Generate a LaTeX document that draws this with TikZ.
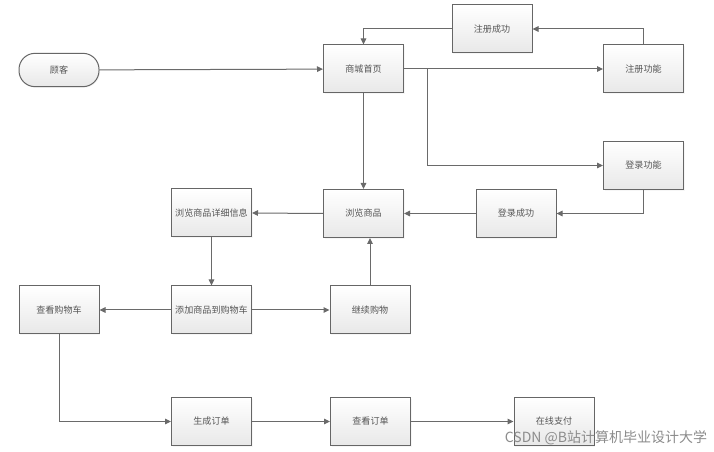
\documentclass[tikz,border=0pt]{standalone}
\usepackage{fontspec}
\setmainfont{Noto Sans CJK SC}
\usetikzlibrary{arrows.meta,shadows,calc}
\definecolor{edgegray}{HTML}{6A6A6A}
\definecolor{boxline}{HTML}{666666}
\definecolor{txtgray}{HTML}{555555}
\tikzset{
  box/.style={draw=boxline, line width=0.75pt, top color=white, bottom color=black!9,
    minimum width=60pt, minimum height=36pt, inner sep=1pt, font=\fontsize{6.8pt}{8pt}\selectfont,
    text=txtgray, drop shadow={opacity=0.07, shadow xshift=0.8pt, shadow yshift=-0.8pt}},
  term/.style={box, rounded corners=12pt, minimum height=25pt},
  conn/.style={draw=edgegray, line width=0.75pt, -{Triangle[length=4.5pt,width=4.2pt]}},
  line/.style={draw=edgegray, line width=0.75pt}
}
\begin{document}
\begin{tikzpicture}[x=0.75pt,y=-0.75pt]
\useasboundingbox (0,0) rectangle (714,452);
\fill[white] (0,0) rectangle (714,452);
\node[term] (gk) at (59,70) {顾客};
\node[box] (home) at (363.5,69) {商城首页};
\node[box] (regok) at (492,29) {注册成功};
\node[box] (regfn) at (643.5,69) {注册功能};
\node[box] (logfn) at (643.5,165.5) {登录功能};
\node[box] (logok) at (516,213.5) {登录成功};
\node[box] (browse) at (363.5,213.5) {浏览商品};
\node[box] (detail) at (211.5,213) {浏览商品详细信息};
\node[box] (addcart) at (211.5,310) {添加商品到购物车};
\node[box] (cont) at (370,310) {继续购物};
\node[box] (viewcart) at (59,310) {查看购物车};
\node[box] (genorder) at (211.5,421.5) {生成订单};
\node[box] (vieworder) at (370.5,421.5) {查看订单};
\node[box] (pay) at (554,421.5) {在线支付};
\coordinate (br) at (427,69);

\draw[conn] (gk) -- (home);
\draw[conn] (regok.west) -| (home.north);
\draw[conn] (regfn.north) |- (regok.east);
\draw[conn] (home.east) -- (regfn.west);
\draw[conn] (br) |- (logfn.west);
\draw[conn] (logfn.south) |- (logok.east);
\draw[conn] (logok.west) -- (browse.east);
\draw[conn] (home.south) -- (browse.north);
\draw[conn] (browse.west) -- (detail.east);
\draw[conn] (detail.south) -- (addcart.north);
\draw[conn] (addcart.west) -- (viewcart.east);
\draw[conn] (addcart.east) -- (cont.west);
\draw[conn] (cont.north) -- (cont.north |- browse.south);
\draw[conn] (viewcart.south) |- (genorder.west);
\draw[conn] (genorder.east) -- (vieworder.west);
\draw[conn] (vieworder.east) -- (pay.west);

\node[text=black!45, font=\fontsize{10.5pt}{12pt}\selectfont, inner sep=0pt] (wm) at (606,438) {CSDN @B站计算机毕业设计大学};
\end{tikzpicture}
\end{document}
